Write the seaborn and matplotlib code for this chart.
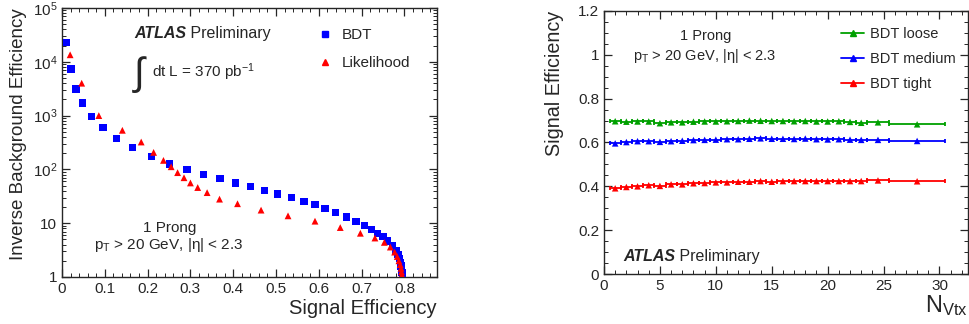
import numpy as np
import pandas as pd
import matplotlib
matplotlib.use("Agg")
import matplotlib.pyplot as plt
import seaborn as sns
from matplotlib.lines import Line2D
from matplotlib.ticker import MultipleLocator, LogLocator, FixedLocator, FixedFormatter, NullFormatter

# -------------------------------
# Data: left panel (rejection vs signal efficiency)
# -------------------------------
bdt_eff = [0.010, 0.021, 0.033, 0.048, 0.069, 0.096, 0.127, 0.165, 0.209, 0.251,
           0.292, 0.331, 0.369, 0.406, 0.440, 0.473, 0.504, 0.536, 0.565, 0.591,
           0.614, 0.639, 0.664, 0.687, 0.706, 0.723, 0.737, 0.750, 0.761, 0.772,
           0.780, 0.785, 0.788, 0.790, 0.792, 0.793, 0.794, 0.795, 0.795]
bdt_rej = [22900, 7400, 3100, 1720, 960, 597, 378, 253, 175, 126,
           99, 81, 67, 56, 48, 40, 35, 30, 25, 22,
           19, 16, 13, 10.9, 9.05, 7.6, 6.5, 5.6, 4.7, 3.9,
           3.1, 2.6, 2.2, 1.85, 1.6, 1.4, 1.22, 1.1, 1.02]

llh_eff = [0.019, 0.046, 0.086, 0.141, 0.185, 0.214, 0.237, 0.255, 0.270, 0.285,
           0.300, 0.317, 0.339, 0.368, 0.410, 0.465, 0.528, 0.591, 0.650, 0.697,
           0.731, 0.753, 0.767, 0.777, 0.783, 0.787, 0.790, 0.792, 0.793, 0.794, 0.794]
llh_rej = [13500, 4000, 1000, 533, 323, 207, 147, 112, 87, 70,
           56, 46, 37, 28, 23, 17.5, 13.7, 10.9, 8.3, 6.5,
           5.3, 4.4, 3.6, 2.9, 2.4, 2.0, 1.7, 1.45, 1.25, 1.1, 1.0]

# -------------------------------
# Data: right panel (signal efficiency vs NVtx)
# -------------------------------
bin_lo = [0.5, 1.5, 2.5, 3.5, 4.5, 5.5, 6.5, 7.5, 8.5, 9.5, 10.5, 11.5, 12.5,
          13.5, 14.5, 15.5, 16.5, 17.5, 18.5, 19.5, 20.5, 21.5, 22.5, 23.5, 25.5]
bin_hi = [1.5, 2.5, 3.5, 4.5, 5.5, 6.5, 7.5, 8.5, 9.5, 10.5, 11.5, 12.5, 13.5,
          14.5, 15.5, 16.5, 17.5, 18.5, 19.5, 20.5, 21.5, 22.5, 23.5, 25.5, 30.5]
nvtx = [1, 2, 3, 4, 5, 6, 7, 8, 9, 10, 11, 12, 13, 14, 15, 16, 17, 18, 19, 20,
        21, 22, 23, 24.5, 28]
eff_loose = [0.697, 0.695, 0.696, 0.696, 0.688, 0.692, 0.692, 0.695, 0.696, 0.696,
             0.697, 0.698, 0.700, 0.699, 0.698, 0.698, 0.697, 0.698, 0.696, 0.696,
             0.697, 0.694, 0.690, 0.692, 0.683]
eff_medium = [0.596, 0.602, 0.606, 0.606, 0.603, 0.606, 0.608, 0.611, 0.612, 0.613,
              0.615, 0.615, 0.617, 0.619, 0.617, 0.617, 0.616, 0.618, 0.615, 0.614,
              0.615, 0.613, 0.612, 0.612, 0.607]
eff_tight = [0.391, 0.397, 0.400, 0.405, 0.402, 0.409, 0.409, 0.414, 0.415, 0.418,
             0.418, 0.421, 0.421, 0.424, 0.421, 0.424, 0.424, 0.424, 0.424, 0.424,
             0.424, 0.424, 0.424, 0.427, 0.423]

left_yticks = [1, 10, 100, 1000, 10000, 100000]
left_ylabels = ["1", "10", "$10^2$", "$10^3$", "$10^4$", "$10^5$"]

# -------------------------------
# Style
# -------------------------------
sns.set_style("ticks")
plt.rcParams["font.family"] = ["Liberation Sans", "DejaVu Sans"]
plt.rcParams["mathtext.fontset"] = "custom"
plt.rcParams["mathtext.rm"] = "Liberation Sans"
plt.rcParams["mathtext.it"] = "Liberation Sans:italic"
plt.rcParams["mathtext.bf"] = "Liberation Sans:bold"
for side in ["x", "y"]:
    plt.rcParams[f"{side}tick.direction"] = "in"
    plt.rcParams[f"{side}tick.major.size"] = 6
    plt.rcParams[f"{side}tick.minor.size"] = 3
    plt.rcParams[f"{side}tick.major.width"] = 0.9
    plt.rcParams[f"{side}tick.minor.width"] = 0.7
    plt.rcParams[f"{side}tick.labelsize"] = 11
plt.rcParams["xtick.top"] = True
plt.rcParams["ytick.right"] = True
plt.rcParams["xtick.minor.visible"] = True
plt.rcParams["ytick.minor.visible"] = True
plt.rcParams["axes.linewidth"] = 1.0

fig = plt.figure(figsize=(9.7, 3.24), dpi=100)
ax1 = fig.add_axes([62 / 970, 1 - 277 / 324, 375 / 970, 269 / 324])
ax2 = fig.add_axes([604 / 970, 1 - 274 / 324, 364 / 970, 263 / 324])

# -------------------------------
# Left panel
# -------------------------------
df_bdt = pd.DataFrame({"eff": bdt_eff, "rej": bdt_rej})
df_llh = pd.DataFrame({"eff": llh_eff, "rej": llh_rej})
sns.scatterplot(data=df_bdt, x="eff", y="rej", ax=ax1, marker="s", s=28,
                color="#0000ff", edgecolor="none", zorder=3)
sns.scatterplot(data=df_llh, x="eff", y="rej", ax=ax1, marker="^", s=24,
                color="#ff0000", edgecolor="none", zorder=4)
ax1.set_yscale("log")
ax1.set_xlim(0, 0.876)
ax1.set_ylim(1, 1e5)
ax1.xaxis.set_major_locator(MultipleLocator(0.1))
ax1.xaxis.set_minor_locator(MultipleLocator(0.02))
ax1.yaxis.set_major_locator(FixedLocator(left_yticks))
ax1.yaxis.set_major_formatter(FixedFormatter(left_ylabels))
ax1.yaxis.set_minor_locator(LogLocator(base=10, subs=np.arange(2, 10)))
ax1.yaxis.set_minor_formatter(NullFormatter())
ax1.xaxis.set_major_formatter(plt.FuncFormatter(lambda v, p: "0" if v == 0 else f"{v:.1f}"))
ax1.set_xlabel("Signal Efficiency", fontsize=14.5, loc="right", labelpad=2)
ax1.set_ylabel("Inverse Background Efficiency", fontsize=13.5, loc="top", labelpad=4)

t = ax1.text(0.192, 0.907, "ATLAS", transform=ax1.transAxes, fontsize=11.5,
             fontweight="bold", style="italic", va="center")
ax1.annotate(" Preliminary", xy=(1, 0.5), xycoords=t, fontsize=11.5, va="center")
ax1.text(0.188, 0.752, r"$\int$", transform=ax1.transAxes, fontsize=28, va="center")
ax1.text(0.24, 0.762, r"dt L = 370 pb$^{-1}$", transform=ax1.transAxes, fontsize=11, va="center")
ax1.text(0.288, 0.182, "1 Prong", transform=ax1.transAxes, fontsize=11, ha="center", va="center")
ax1.text(0.285, 0.119, r"p$_\mathrm{T}$ > 20 GeV, |η| < 2.3", transform=ax1.transAxes,
         fontsize=11, ha="center", va="center")

h_left = [Line2D([], [], ls="none", marker="s", color="#0000ff", markersize=5),
          Line2D([], [], ls="none", marker="^", color="#ff0000", markersize=5)]
ax1.legend(h_left, ["BDT", "Likelihood"], loc="upper left", bbox_to_anchor=(0.64, 0.975),
           frameon=False, fontsize=11, handlelength=1.2, handletextpad=0.5, labelspacing=0.9)

# -------------------------------
# Right panel
# -------------------------------
series = [("BDT loose", eff_loose, "#00a000"),
          ("BDT medium", eff_medium, "#0000ff"),
          ("BDT tight", eff_tight, "#ff0000")]
handles = []
for name, vals, col in series:
    d = pd.DataFrame({"nvtx": nvtx, "eff": vals})
    ax2.errorbar(nvtx, vals, xerr=[np.subtract(nvtx, bin_lo), np.subtract(bin_hi, nvtx)],
                 fmt="none", ecolor=col, elinewidth=1.3, capsize=1.3, capthick=1.3, zorder=2)
    sns.scatterplot(data=d, x="nvtx", y="eff", ax=ax2, marker="^", s=22,
                    color=col, edgecolor="none", zorder=3)
    handles.append(Line2D([], [], color=col, lw=1.3, marker="^", markersize=4.5))

ax2.set_xlim(0, 32.55)
ax2.set_ylim(0, 1.2)
ax2.xaxis.set_major_locator(MultipleLocator(5))
ax2.xaxis.set_minor_locator(MultipleLocator(1))
ax2.yaxis.set_major_locator(MultipleLocator(0.2))
ax2.yaxis.set_minor_locator(MultipleLocator(0.05))
ax2.yaxis.set_major_formatter(plt.FuncFormatter(lambda v, p: f"{v:g}"))
ax2.set_xlabel(r"N$_\mathrm{Vtx}$", fontsize=17, loc="right", labelpad=0)
ax2.set_ylabel("Signal Efficiency", fontsize=14.2, loc="top", labelpad=10)

ax2.text(0.279, 0.905, "1 Prong", transform=ax2.transAxes, fontsize=10.5, ha="center", va="center")
ax2.text(0.277, 0.828, r"p$_\mathrm{T}$ > 20 GeV, |η| < 2.3", transform=ax2.transAxes,
         fontsize=10.5, ha="center", va="center")
t2 = ax2.text(0.052, 0.068, "ATLAS", transform=ax2.transAxes, fontsize=11.5,
              fontweight="bold", style="italic", va="center")
ax2.annotate(" Preliminary", xy=(1, 0.5), xycoords=t2, fontsize=11.5, va="center")

ax2.legend(handles, [s[0] for s in series], loc="upper left", bbox_to_anchor=(0.615, 0.988),
           frameon=False, fontsize=10.5, handlelength=1.6, handletextpad=0.4, labelspacing=0.75)

fig.savefig("out.png", dpi=100)
